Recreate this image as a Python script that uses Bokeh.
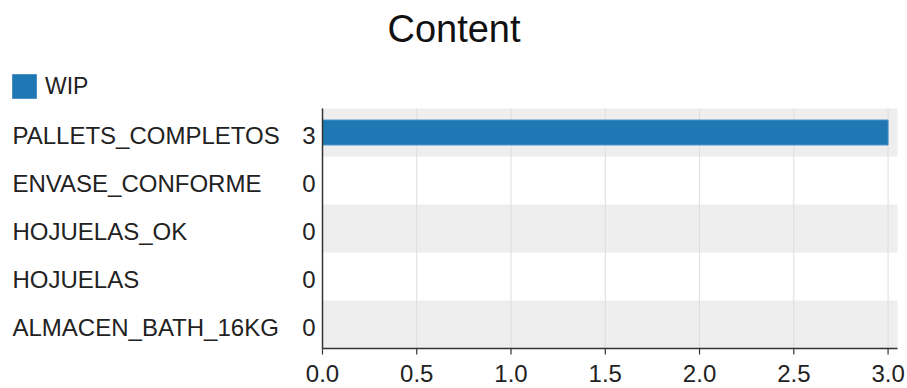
from bokeh.plotting import figure
from bokeh.models import Range1d, Legend, LegendItem
from bokeh.core.properties import value
from bokeh.embed import file_html
from bokeh.resources import INLINE

# ---- data ----
categories = ["PALLETS_COMPLETOS", "ENVASE_CONFORME", "HOJUELAS_OK", "HOJUELAS", "ALMACEN_BATH_16KG"]
wip_values = [3, 0, 0, 0, 0]
x_ticks = [0.0, 0.5, 1.0, 1.5, 2.0, 2.5, 3.0]
series_name = "WIP"
title_text = "Content"

# ---- layout / style ----
W, H = 907, 388
LEFT_PX, RIGHT_PX, TOP_PX, BOTTOM_PX = 322, 10, 108, 40
X_END = 3.05
FONT = "Liberation Sans"
TXT = "#222222"
AXIS = "#333333"
BLUE = "#1f77b4"

n = len(categories)
ypos = [n - 1 - i for i in range(n)]            # first category on top
row_px = (H - TOP_PX - BOTTOM_PX) / n
x_start = -LEFT_PX * X_END / (W - LEFT_PX - RIGHT_PX)
x_end = X_END + RIGHT_PX * X_END / (W - LEFT_PX - RIGHT_PX)
y_bottom, y_top = -0.5, n - 0.5
y_start = y_bottom - BOTTOM_PX / row_px
y_end = y_top + TOP_PX / row_px

p = figure(width=W, height=H, output_backend="svg", toolbar_location=None, title=None,
           x_range=Range1d(x_start, x_end), y_range=Range1d(y_start, y_end),
           x_axis_location=None, y_axis_location=None,
           min_border_left=0, min_border_right=0, min_border_top=0, min_border_bottom=0)
p.outline_line_color = None
p.grid.visible = False
p.background_fill_color = "white"
p.border_fill_color = "white"

# alternating bands
band_y = ypos[0::2]
p.hbar(y=band_y, left=0, right=X_END, height=1.0, fill_color="#eeeeee",
       line_color=None, level="image")

# vertical grid lines
p.segment(x0=x_ticks, y0=y_bottom, x1=x_ticks, y1=y_top, line_color="#dddddd",
          line_width=1, level="underlay")

# bars
r = p.hbar(y=ypos, left=0, right=wip_values, height=0.52, fill_color=BLUE,
           line_color="#4a90c4", line_width=1)

# axes
p.segment(x0=[0, 0], y0=[y_bottom, y_bottom], x1=[0, X_END], y1=[y_top, y_bottom],
          line_color=AXIS, line_width=1.5)
p.ray(x=x_ticks, y=y_bottom, length=6, length_units="screen", angle=-90,
      angle_units="deg", line_color=AXIS, line_width=1.2)
p.text(x=x_ticks, y=y_bottom, text=[f"{t:.1f}" for t in x_ticks], y_offset=25,
       text_align="center", text_baseline="alphabetic", text_font=value(FONT),
       text_font_size="24px", text_color=TXT)

# value labels next to the axis
p.text(x=0, y=ypos, text=[str(v) for v in wip_values], x_offset=-7, y_offset=3,
       text_align="right", text_baseline="alphabetic", text_font=value(FONT),
       text_font_size="24px", text_color=TXT)

# category names, left aligned
p.text(x=x_start, y=ypos, text=categories, x_offset=12, y_offset=3,
       text_align="left", text_baseline="alphabetic", text_font=value(FONT),
       text_font_size="24px", text_color=TXT)

# title
p.text(x=(x_start + x_end) / 2, y=y_end, text=[title_text], y_offset=28,
       text_align="center", text_baseline="alphabetic", text_font=value(FONT),
       text_font_size="38px", text_color="#111111")

# legend
legend = Legend(items=[LegendItem(label=series_name, renderers=[r])],
                location=(9, H - 101), orientation="horizontal",
                glyph_width=30, glyph_height=30, label_standoff=6, padding=0, margin=0,
                spacing=0, border_line_color=None, background_fill_alpha=0,
                label_text_font=FONT, label_text_font_size="23px", label_text_color=TXT)
p.add_layout(legend)

open("out.html", "w").write(file_html(p, INLINE))
